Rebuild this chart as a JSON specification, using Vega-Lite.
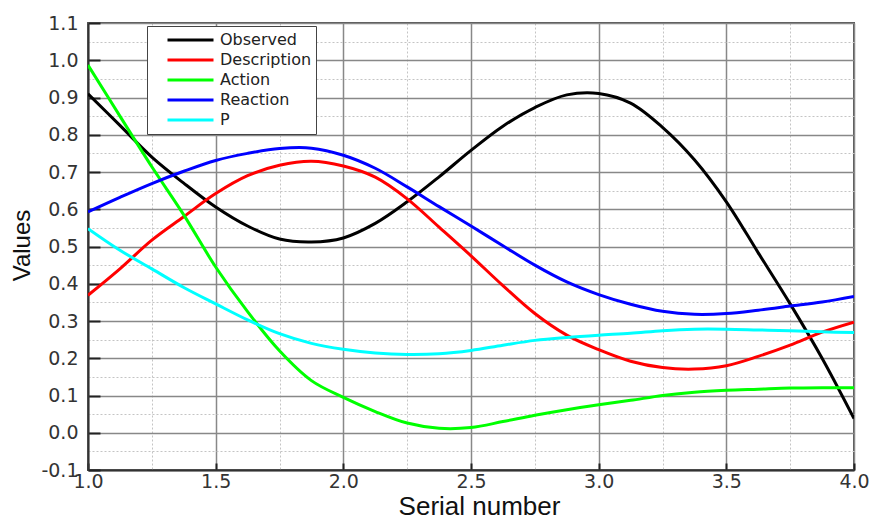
{
  "$schema": "https://vega.github.io/schema/vega-lite/v6.json",
  "width": 766,
  "height": 447,
  "autosize": {"type": "none"},
  "padding": {"left": 88, "top": 23, "right": 17, "bottom": 50},
  "background": "white",
  "config": {
    "view": {"stroke": "#555555", "strokeWidth": 2}
  },
  "data": {
    "values": [
      {"x": 1.0, "Observed": 0.91, "Description": 0.369, "Action": 0.987, "Reaction": 0.593, "P": 0.548},
      {"x": 1.125, "Observed": 0.825, "Description": 0.44, "Action": 0.85, "Reaction": 0.632, "P": 0.49},
      {"x": 1.25, "Observed": 0.74, "Description": 0.517, "Action": 0.714, "Reaction": 0.669, "P": 0.44},
      {"x": 1.375, "Observed": 0.67, "Description": 0.58, "Action": 0.585, "Reaction": 0.702, "P": 0.39},
      {"x": 1.5, "Observed": 0.606, "Description": 0.642, "Action": 0.445, "Reaction": 0.731, "P": 0.346},
      {"x": 1.625, "Observed": 0.555, "Description": 0.69, "Action": 0.325, "Reaction": 0.75, "P": 0.303},
      {"x": 1.75, "Observed": 0.52, "Description": 0.718, "Action": 0.22, "Reaction": 0.763, "P": 0.266},
      {"x": 1.875, "Observed": 0.512, "Description": 0.729, "Action": 0.14, "Reaction": 0.764, "P": 0.24},
      {"x": 2.0, "Observed": 0.523, "Description": 0.716, "Action": 0.095, "Reaction": 0.745, "P": 0.224},
      {"x": 2.125, "Observed": 0.562, "Description": 0.686, "Action": 0.057, "Reaction": 0.71, "P": 0.214},
      {"x": 2.25, "Observed": 0.62, "Description": 0.628, "Action": 0.026, "Reaction": 0.66, "P": 0.21},
      {"x": 2.375, "Observed": 0.687, "Description": 0.552, "Action": 0.012, "Reaction": 0.607, "P": 0.212},
      {"x": 2.5, "Observed": 0.758, "Description": 0.475, "Action": 0.014, "Reaction": 0.555, "P": 0.221},
      {"x": 2.625, "Observed": 0.823, "Description": 0.395, "Action": 0.03, "Reaction": 0.502, "P": 0.235},
      {"x": 2.75, "Observed": 0.873, "Description": 0.32, "Action": 0.047, "Reaction": 0.45, "P": 0.248},
      {"x": 2.875, "Observed": 0.907, "Description": 0.262, "Action": 0.062, "Reaction": 0.405, "P": 0.256},
      {"x": 3.0, "Observed": 0.911, "Description": 0.223, "Action": 0.075, "Reaction": 0.371, "P": 0.262},
      {"x": 3.125, "Observed": 0.885, "Description": 0.192, "Action": 0.087, "Reaction": 0.345, "P": 0.267},
      {"x": 3.25, "Observed": 0.82, "Description": 0.175, "Action": 0.1, "Reaction": 0.326, "P": 0.274},
      {"x": 3.375, "Observed": 0.733, "Description": 0.171, "Action": 0.109, "Reaction": 0.318, "P": 0.278},
      {"x": 3.5, "Observed": 0.62, "Description": 0.18, "Action": 0.114, "Reaction": 0.32, "P": 0.278},
      {"x": 3.625, "Observed": 0.483, "Description": 0.205, "Action": 0.117, "Reaction": 0.329, "P": 0.276},
      {"x": 3.75, "Observed": 0.346, "Description": 0.235, "Action": 0.12, "Reaction": 0.34, "P": 0.274},
      {"x": 3.875, "Observed": 0.2, "Description": 0.27, "Action": 0.121, "Reaction": 0.351, "P": 0.271},
      {"x": 4.0, "Observed": 0.038, "Description": 0.297, "Action": 0.121, "Reaction": 0.366, "P": 0.269}
    ]
  },
  "transform": [
    {"fold": ["Observed", "Description", "Action", "Reaction", "P"], "as": ["series", "value"]}
  ],
  "mark": {"type": "line", "strokeWidth": 3, "interpolate": "catmull-rom", "clip": true},
  "encoding": {
    "x": {
      "field": "x",
      "type": "quantitative",
      "scale": {"domain": [1, 4], "nice": false, "zero": false},
      "axis": {
        "title": "Serial number",
        "values": [1, 1.25, 1.5, 1.75, 2, 2.25, 2.5, 2.75, 3, 3.25, 3.5, 3.75, 4],
        "format": ".1f",
        "labelExpr": "abs(datum.value*2-round(datum.value*2))<0.001 ? datum.label : ''",
        "labelFont": "DejaVu Sans",
        "labelFontSize": 19,
        "labelColor": "#333333",
        "labelPadding": 9,
        "labelFlush": false,
        "labelOverlap": false,
        "tickSize": -7,
        "tickWidth": 2,
        "tickColor": "#222222",
        "tickOpacity": {"condition": {"test": "abs(datum.value*2-round(datum.value*2))<0.001", "value": 1}, "value": 0},
        "domainColor": "#333333",
        "domainWidth": 2,
        "grid": true,
        "gridColor": {"condition": {"test": "abs(datum.value*2-round(datum.value*2))<0.001", "value": "#888888"}, "value": "#c4c4c4"},
        "gridDash": {"condition": {"test": "abs(datum.value*2-round(datum.value*2))<0.001", "value": []}, "value": [2, 2]},
        "gridWidth": {"condition": {"test": "abs(datum.value*2-round(datum.value*2))<0.001", "value": 1.5}, "value": 1},
        "titleFont": "Liberation Sans",
        "titleFontSize": 26,
        "titleFontWeight": "normal",
        "titleColor": "#111111",
        "titleX": 391,
        "titleY": 44,
        "titleBaseline": "alphabetic"
      }
    },
    "y": {
      "field": "value",
      "type": "quantitative",
      "scale": {"domain": [-0.1, 1.1], "nice": false, "zero": false},
      "axis": {
        "title": "Values",
        "values": [-0.1, -0.05, 0, 0.05, 0.1, 0.15, 0.2, 0.25, 0.3, 0.35, 0.4, 0.45, 0.5, 0.55, 0.6, 0.65, 0.7, 0.75, 0.8, 0.85, 0.9, 0.95, 1.0, 1.05, 1.1],
        "format": ".1f",
        "labelExpr": "abs(datum.value*10-round(datum.value*10))<0.001 ? replace(datum.label, '\u2212', '-') : ''",
        "labelFont": "DejaVu Sans",
        "labelFontSize": 19,
        "labelColor": "#333333",
        "labelPadding": 22,
        "labelOverlap": false,
        "labelFlush": false,
        "tickSize": -12,
        "tickWidth": 2,
        "tickColor": "#222222",
        "tickOpacity": {"condition": {"test": "abs(datum.value*10-round(datum.value*10))<0.001", "value": 1}, "value": 0},
        "domainColor": "#333333",
        "domainWidth": 2,
        "grid": true,
        "gridColor": {"condition": {"test": "abs(datum.value*10-round(datum.value*10))<0.001", "value": "#888888"}, "value": "#c4c4c4"},
        "gridDash": {"condition": {"test": "abs(datum.value*10-round(datum.value*10))<0.001", "value": []}, "value": [2, 2]},
        "gridWidth": {"condition": {"test": "abs(datum.value*10-round(datum.value*10))<0.001", "value": 1.5}, "value": 1},
        "titleFont": "Liberation Sans",
        "titleFontSize": 24,
        "titleFontWeight": "normal",
        "titleColor": "#111111",
        "titleX": -54,
        "titleY": 222
      }
    },
    "color": {
      "field": "series",
      "type": "nominal",
      "scale": {
        "domain": ["Observed", "Description", "Action", "Reaction", "P"],
        "range": ["#000000", "#ff0000", "#00ff00", "#0000ff", "#00ffff"]
      },
      "legend": {
        "orient": "none",
        "legendX": 59,
        "legendY": 3,
        "title": null,
        "symbolType": "stroke",
        "symbolSize": 2116,
        "symbolStrokeWidth": 3,
        "labelFont": "DejaVu Sans",
        "labelFontSize": 16,
        "labelColor": "#222222",
        "labelOffset": 5,
        "padding": 4,
        "clipHeight": 20,
        "rowPadding": 0,
        "symbolOffset": 15,
        "fillColor": "white",
        "strokeColor": "#444444",
        "labelExpr": "datum.label + '   '"
      }
    }
  }
}
